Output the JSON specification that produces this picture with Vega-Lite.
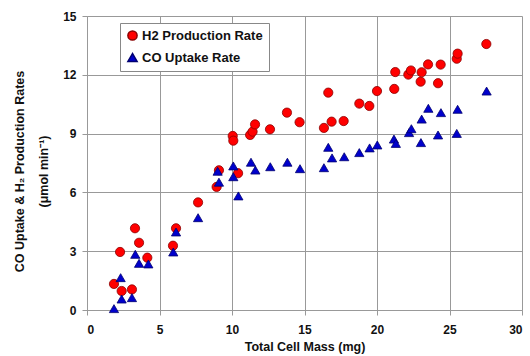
{
  "$schema": "https://vega.github.io/schema/vega-lite/v6.json",
  "autosize": "none",
  "width": 435,
  "height": 294,
  "padding": {"left": 87, "top": 16, "right": 8, "bottom": 46},
  "background": "white",
  "config": {
    "font": "Liberation Sans",
    "view": {"stroke": null},
    "axis": {
      "gridColor": "#999999",
      "gridWidth": 1,
      "domainColor": "#999999",
      "tickColor": "#999999",
      "tickSize": 5,
      "labelFont": "Liberation Sans",
      "labelFontWeight": "bold",
      "labelFontSize": 12,
      "labelColor": "#111111",
      "titleFont": "Liberation Sans",
      "titleFontWeight": "bold",
      "titleFontSize": 12.5,
      "titleColor": "#111111"
    }
  },
  "data": {
    "values": [
      {"mass": 1.86, "rate": 1.33, "series": "H2 Production Rate"},
      {"mass": 2.28, "rate": 2.96, "series": "H2 Production Rate"},
      {"mass": 2.39, "rate": 0.97, "series": "H2 Production Rate"},
      {"mass": 3.10, "rate": 1.05, "series": "H2 Production Rate"},
      {"mass": 3.31, "rate": 4.17, "series": "H2 Production Rate"},
      {"mass": 3.59, "rate": 3.43, "series": "H2 Production Rate"},
      {"mass": 4.16, "rate": 2.67, "series": "H2 Production Rate"},
      {"mass": 5.93, "rate": 3.28, "series": "H2 Production Rate"},
      {"mass": 6.14, "rate": 4.17, "series": "H2 Production Rate"},
      {"mass": 7.66, "rate": 5.49, "series": "H2 Production Rate"},
      {"mass": 8.94, "rate": 6.28, "series": "H2 Production Rate"},
      {"mass": 9.10, "rate": 7.13, "series": "H2 Production Rate"},
      {"mass": 10.05, "rate": 8.88, "series": "H2 Production Rate"},
      {"mass": 10.09, "rate": 8.64, "series": "H2 Production Rate"},
      {"mass": 10.42, "rate": 6.98, "series": "H2 Production Rate"},
      {"mass": 11.25, "rate": 8.93, "series": "H2 Production Rate"},
      {"mass": 11.42, "rate": 9.10, "series": "H2 Production Rate"},
      {"mass": 11.59, "rate": 9.47, "series": "H2 Production Rate"},
      {"mass": 12.62, "rate": 9.22, "series": "H2 Production Rate"},
      {"mass": 13.79, "rate": 10.07, "series": "H2 Production Rate"},
      {"mass": 14.66, "rate": 9.58, "series": "H2 Production Rate"},
      {"mass": 16.34, "rate": 9.29, "series": "H2 Production Rate"},
      {"mass": 16.64, "rate": 11.09, "series": "H2 Production Rate"},
      {"mass": 16.87, "rate": 9.61, "series": "H2 Production Rate"},
      {"mass": 17.70, "rate": 9.64, "series": "H2 Production Rate"},
      {"mass": 18.78, "rate": 10.53, "series": "H2 Production Rate"},
      {"mass": 19.47, "rate": 10.41, "series": "H2 Production Rate"},
      {"mass": 20.00, "rate": 11.17, "series": "H2 Production Rate"},
      {"mass": 21.19, "rate": 11.28, "series": "H2 Production Rate"},
      {"mass": 21.26, "rate": 12.14, "series": "H2 Production Rate"},
      {"mass": 22.16, "rate": 12.01, "series": "H2 Production Rate"},
      {"mass": 22.34, "rate": 12.22, "series": "H2 Production Rate"},
      {"mass": 23.01, "rate": 11.65, "series": "H2 Production Rate"},
      {"mass": 23.08, "rate": 12.13, "series": "H2 Production Rate"},
      {"mass": 23.52, "rate": 12.53, "series": "H2 Production Rate"},
      {"mass": 24.21, "rate": 11.57, "series": "H2 Production Rate"},
      {"mass": 24.39, "rate": 12.52, "series": "H2 Production Rate"},
      {"mass": 25.50, "rate": 12.82, "series": "H2 Production Rate"},
      {"mass": 25.56, "rate": 13.08, "series": "H2 Production Rate"},
      {"mass": 27.54, "rate": 13.57, "series": "H2 Production Rate"},
      {"mass": 1.86, "rate": 0.07, "series": "CO Uptake Rate"},
      {"mass": 2.32, "rate": 1.65, "series": "CO Uptake Rate"},
      {"mass": 2.39, "rate": 0.56, "series": "CO Uptake Rate"},
      {"mass": 3.10, "rate": 0.63, "series": "CO Uptake Rate"},
      {"mass": 3.33, "rate": 2.84, "series": "CO Uptake Rate"},
      {"mass": 3.59, "rate": 2.38, "series": "CO Uptake Rate"},
      {"mass": 4.23, "rate": 2.35, "series": "CO Uptake Rate"},
      {"mass": 5.95, "rate": 2.96, "series": "CO Uptake Rate"},
      {"mass": 6.14, "rate": 3.98, "series": "CO Uptake Rate"},
      {"mass": 7.66, "rate": 4.71, "series": "CO Uptake Rate"},
      {"mass": 9.01, "rate": 7.08, "series": "CO Uptake Rate"},
      {"mass": 9.10, "rate": 6.52, "series": "CO Uptake Rate"},
      {"mass": 10.09, "rate": 7.35, "series": "CO Uptake Rate"},
      {"mass": 10.09, "rate": 6.80, "series": "CO Uptake Rate"},
      {"mass": 10.44, "rate": 5.82, "series": "CO Uptake Rate"},
      {"mass": 11.31, "rate": 7.54, "series": "CO Uptake Rate"},
      {"mass": 11.61, "rate": 7.14, "series": "CO Uptake Rate"},
      {"mass": 12.64, "rate": 7.31, "series": "CO Uptake Rate"},
      {"mass": 13.82, "rate": 7.54, "series": "CO Uptake Rate"},
      {"mass": 14.69, "rate": 7.21, "series": "CO Uptake Rate"},
      {"mass": 16.34, "rate": 7.26, "series": "CO Uptake Rate"},
      {"mass": 16.64, "rate": 8.30, "series": "CO Uptake Rate"},
      {"mass": 16.90, "rate": 7.76, "series": "CO Uptake Rate"},
      {"mass": 17.74, "rate": 7.82, "series": "CO Uptake Rate"},
      {"mass": 18.78, "rate": 8.03, "series": "CO Uptake Rate"},
      {"mass": 19.49, "rate": 8.27, "series": "CO Uptake Rate"},
      {"mass": 20.02, "rate": 8.42, "series": "CO Uptake Rate"},
      {"mass": 21.17, "rate": 8.72, "series": "CO Uptake Rate"},
      {"mass": 21.30, "rate": 8.50, "series": "CO Uptake Rate"},
      {"mass": 22.21, "rate": 9.05, "series": "CO Uptake Rate"},
      {"mass": 22.37, "rate": 9.25, "series": "CO Uptake Rate"},
      {"mass": 23.03, "rate": 8.54, "series": "CO Uptake Rate"},
      {"mass": 23.08, "rate": 9.74, "series": "CO Uptake Rate"},
      {"mass": 23.54, "rate": 10.29, "series": "CO Uptake Rate"},
      {"mass": 24.21, "rate": 8.93, "series": "CO Uptake Rate"},
      {"mass": 24.41, "rate": 10.07, "series": "CO Uptake Rate"},
      {"mass": 25.50, "rate": 9.01, "series": "CO Uptake Rate"},
      {"mass": 25.56, "rate": 10.24, "series": "CO Uptake Rate"},
      {"mass": 27.56, "rate": 11.17, "series": "CO Uptake Rate"}
    ]
  },
  "mark": {"type": "point", "filled": true, "opacity": 1, "strokeWidth": 0.8},
  "encoding": {
    "x": {
      "field": "mass",
      "type": "quantitative",
      "scale": {"domain": [0, 30], "nice": false},
      "axis": {"values": [0, 5, 10, 15, 20, 25, 30], "title": "Total Cell Mass (mg)", "labelPadding": 9, "titlePadding": 5}
    },
    "y": {
      "field": "rate",
      "type": "quantitative",
      "scale": {"domain": [0, 15], "nice": false},
      "axis": {"values": [0, 3, 6, 9, 12, 15], "title": ["CO Uptake & H₂ Production Rates", "(μmol min⁻¹)"], "labelPadding": 6, "titlePadding": 12, "titleLineHeight": 24, "titleY": 155}
    },
    "color": {
      "field": "series",
      "type": "nominal",
      "sort": null,
      "scale": {"domain": ["H2 Production Rate", "CO Uptake Rate"], "range": ["#ff0000", "#0000cc"]},
      "legend": {
        "title": null,
        "orient": "none",
        "legendX": 33,
        "legendY": 7,
        "fillColor": "white",
        "strokeColor": "#888888",
        "padding": 6,
        "labelFont": "Liberation Sans",
        "labelFontWeight": "bold",
        "labelFontSize": 13,
        "labelColor": "#111111",
        "symbolSize": 85,
        "rowPadding": 6,
        "labelOffset": 3,
        "labelLimit": 300
      }
    },
    "shape": {
      "field": "series",
      "type": "nominal",
      "sort": null,
      "scale": {"domain": ["H2 Production Rate", "CO Uptake Rate"], "range": ["circle", "triangle-up"]}
    },
    "stroke": {
      "field": "series",
      "type": "nominal",
      "sort": null,
      "scale": {"domain": ["H2 Production Rate", "CO Uptake Rate"], "range": ["#8a0000", "#000070"]}
    },
    "size": {"value": 85},
    "order": {"field": "series", "sort": "descending"}
  }
}
